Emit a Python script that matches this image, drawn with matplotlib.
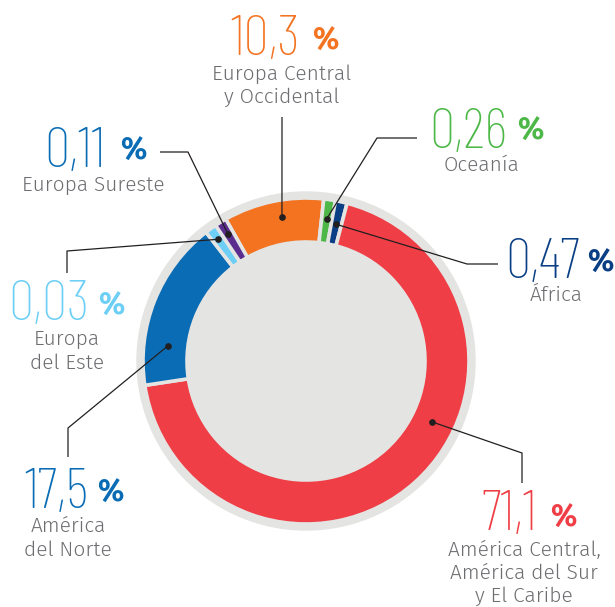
import matplotlib
matplotlib.use("Agg")
import matplotlib.pyplot as plt
import numpy as np
from matplotlib.patches import Circle

# slices in clockwise order, starting at the left edge of the orange one
regions = [
    ["Europa Central", "y Occidental"],
    ["Oceanía"],
    ["África"],
    ["América Central,", "América del Sur", "y El Caribe"],
    ["América", "del Norte"],
    ["Europa", "del Este"],
    ["Europa Sureste"],
]
shares = [10.3, 0.26, 0.47, 71.1, 17.5, 0.03, 0.11]
slice_colors = ["#f47321", "#4db848", "#0b3f85", "#ef3e45", "#0a6cb5", "#6dcff6", "#5b2d8e"]
text_colors = ["#f47321", "#4db848", "#0b3f85", "#ef3e45", "#0a6cb5", "#6dcff6", "#0a6cb5"]

BG = "#e4e4e3"
GREY = "#6d6e71"
INK = "#231f20"
H = 607  # image height, labels below are placed in image pixels (y down)

# label layout: where the dot sits on the slice, the leader path,
# number (right edge, baseline), % (left edge, baseline), region (centre x, baselines)
layout = [
    dict(frac=0.56, r=146, path=[(282, 117)], num=(300, 55), pct=(312, 50), reg=(282, [80, 103])),
    dict(frac=0.5, r=144, path=[(377, 138), (417, 138)], num=(507, 148), pct=(517, 140), reg=(482, [171])),
    dict(frac=0.5, r=140, path=[(467, 264), (498, 264)], num=(580, 278), pct=(587, 272), reg=(556, [301])),
    dict(frac=0.41, r=140, path=[(522, 453), (522, 483)], num=(537, 530), pct=(550, 527), reg=(524, [556, 579, 602])),
    dict(frac=0.244, r=139, path=[(68, 428), (68, 457)], num=(88, 508), pct=(97, 502), reg=(68, [532, 556])),
    dict(frac=0.5, r=150, path=[(67, 251), (67, 273)], num=(90, 320), pct=(98, 315), reg=(67, [345, 369])),
    dict(frac=0.5, r=149, path=[(188, 152), (160, 152)], num=(105, 167), pct=(120, 160), reg=(93, [191])),
]

cx, cy = 306, H - 361
sizes = np.maximum(shares, 1.2)  # the tiny slices get a visible minimum width

fig = plt.figure(figsize=(6.15, 6.07), dpi=100)
ax = fig.add_axes([0, 0, 1, 1])

ax.add_patch(Circle((cx, cy), 169, color=BG, zorder=0))
wedges, _ = ax.pie(
    sizes,
    colors=slice_colors,
    startangle=119.5,
    counterclock=False,
    center=(cx, cy),
    radius=163,
    wedgeprops=dict(width=44, edgecolor=BG, linewidth=2.6),
)

for w, lay, share, reg, tc in zip(wedges, layout, shares, regions, text_colors):
    # dot on the slice, measured clockwise from the slice start
    ang = np.deg2rad(w.theta2 - lay["frac"] * (w.theta2 - w.theta1))
    dx, dy = cx + lay["r"] * np.cos(ang), cy + lay["r"] * np.sin(ang)
    xs = [dx] + [p[0] for p in lay["path"]]
    ys = [dy] + [H - p[1] for p in lay["path"]]
    ax.plot(xs, ys, color=INK, lw=0.9, zorder=5, solid_capstyle="butt")
    ax.plot(dx, dy, "o", color=INK, ms=3.8, zorder=6)

    nx, ny = lay["num"]
    ax.text(nx, H - ny, f"{share:g}".replace(".", ","), color=tc, ha="right", va="baseline",
            family="Barlow Condensed", weight=200, fontsize=41)
    px, py = lay["pct"]
    ax.text(px, H - py, "%", color=tc, ha="left", va="baseline",
            family="Fira Sans", weight="bold", fontsize=22)
    rx, rys = lay["reg"]
    for line, ry in zip(reg, rys):
        ax.text(rx, H - ry, line, color=GREY, ha="center", va="baseline",
                family="Fira Sans", weight=300, fontsize=15)

ax.set_xlim(0, 615)
ax.set_ylim(0, H)
ax.set_aspect("equal")
ax.axis("off")

fig.savefig("out.png", dpi=100, facecolor="white")
